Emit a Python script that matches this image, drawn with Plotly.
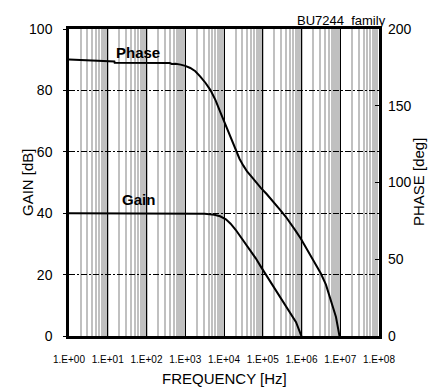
import plotly.graph_objects as go

# ---- data ----
gain_freq = [1, 10, 100, 200, 1000, 3160, 5620, 7940, 11200, 14800, 20000, 26900,
             36300, 49000, 66100, 89100, 120000, 162000, 219000, 295000, 398000,
             537000, 724000, 955000, 1000000]
gain_db = [40.0, 40.0, 40.0, 39.9, 40.0, 39.8, 39.5, 39.0, 38.0, 36.6, 34.6, 32.3,
           30.2, 27.9, 25.3, 22.6, 20.0, 17.5, 14.8, 12.2, 9.8, 7.3, 4.5, 0.5, 0.0]

phase_freq = [1, 10, 14.8, 15.1, 398, 447, 562, 759, 1000, 1350, 1820, 2450, 3310,
              4470, 6030, 8130, 11000, 14800, 19500, 25100, 31600, 39800, 52500,
              67600, 89100, 126000, 174000, 229000, 295000, 398000, 537000, 708000,
              955000, 1290000, 1740000, 2340000, 3160000, 4270000, 5750000,
              7760000, 9550000]
phase_deg = [180.2, 179.0, 178.9, 178.0, 177.8, 177.2, 177.3, 176.8, 176.0, 174.6,
             172.5, 169.0, 165.0, 160.2, 153.7, 145.5, 137.4, 128.7, 121.0, 115.5,
             111.0, 107.0, 103.5, 100.0, 96.5, 92.5, 88.5, 85.0, 81.5, 77.5, 73.0,
             68.5, 63.5, 58.0, 52.5, 46.5, 40.7, 33.5, 23.3, 12.4, 0.0]

x_tickvals = [1, 10, 100, 1000, 10000, 100000, 1000000, 10000000, 100000000]
x_ticktext = ["1.E+00", "1.E+01", "1.E+02", "1.E+03", "1.E+04", "1.E+05",
              "1.E+06", "1.E+07", "1.E+08"]

FONT = "Arial, Liberation Sans, sans-serif"

fig = go.Figure()
fig.add_trace(go.Scatter(x=gain_freq, y=gain_db, mode="lines",
                         line=dict(color="black", width=2), yaxis="y",
                         showlegend=False, hoverinfo="skip"))
fig.add_trace(go.Scatter(x=phase_freq, y=phase_deg, mode="lines",
                         line=dict(color="black", width=2), yaxis="y2",
                         showlegend=False, hoverinfo="skip"))

fig.update_layout(
    width=437, height=387,
    margin=dict(l=69, r=58, t=29, b=51),
    paper_bgcolor="white", plot_bgcolor="white",
    font=dict(family=FONT, color="black"),
    xaxis=dict(
        type="log", range=[0, 8],
        tickvals=x_tickvals, ticktext=x_ticktext,
        tickfont=dict(size=10),
        ticks="", ticklabelstandoff=12,
        showgrid=True, gridcolor="black", gridwidth=1,
        minor=dict(dtick="D1", showgrid=True, gridcolor="#c0c0c0", gridwidth=2.2, ticks=""),
        showline=True, linecolor="black", linewidth=2.5, mirror=True,
        zeroline=False,
    ),
    yaxis=dict(
        range=[0, 100], dtick=20, tick0=0,
        tickfont=dict(size=14),
        ticks="outside", ticklen=3, tickcolor="black", ticklabelstandoff=8,
        showgrid=True, gridcolor="black", gridwidth=1, griddash="6px,2px,2px,2px",
        showline=True, linecolor="black", linewidth=2.5, mirror=True,
        zeroline=False,
    ),
    yaxis2=dict(
        range=[0, 200], dtick=50, tick0=0, overlaying="y", side="right",
        tickfont=dict(size=14),
        ticks="inside", ticklen=4, tickcolor="black", ticklabelstandoff=8,
        showgrid=False, zeroline=False, showline=False,
    ),
    annotations=[
        dict(text="GAIN [dB]", xref="paper", yref="paper", x=0, y=0.5,
             xshift=-52, textangle=-90, showarrow=False, font=dict(size=15)),
        dict(text="PHASE [deg]", xref="paper", yref="paper", x=1, y=0.5,
             xshift=50, textangle=-90, showarrow=False, font=dict(size=15)),
        dict(text="FREQUENCY [Hz]", xref="paper", yref="paper", x=0.5, y=0,
             yanchor="middle", yshift=-42, showarrow=False, font=dict(size=15)),
        dict(text="BU7244  family", xref="paper", yref="paper", x=1, y=1,
             xanchor="right", yanchor="middle", xshift=9, yshift=9,
             showarrow=False, font=dict(size=13)),
        dict(text="<b>Phase</b>", x=1.77, y=92.5, xref="x", yref="y",
             showarrow=False, font=dict(size=15)),
        dict(text="<b>Gain</b>", x=1.79, y=44.6, xref="x", yref="y",
             showarrow=False, font=dict(size=15)),
    ],
)

fig.write_html("out.html", config={"displayModeBar": False},
               post_script="document.body.style.margin='0';")
